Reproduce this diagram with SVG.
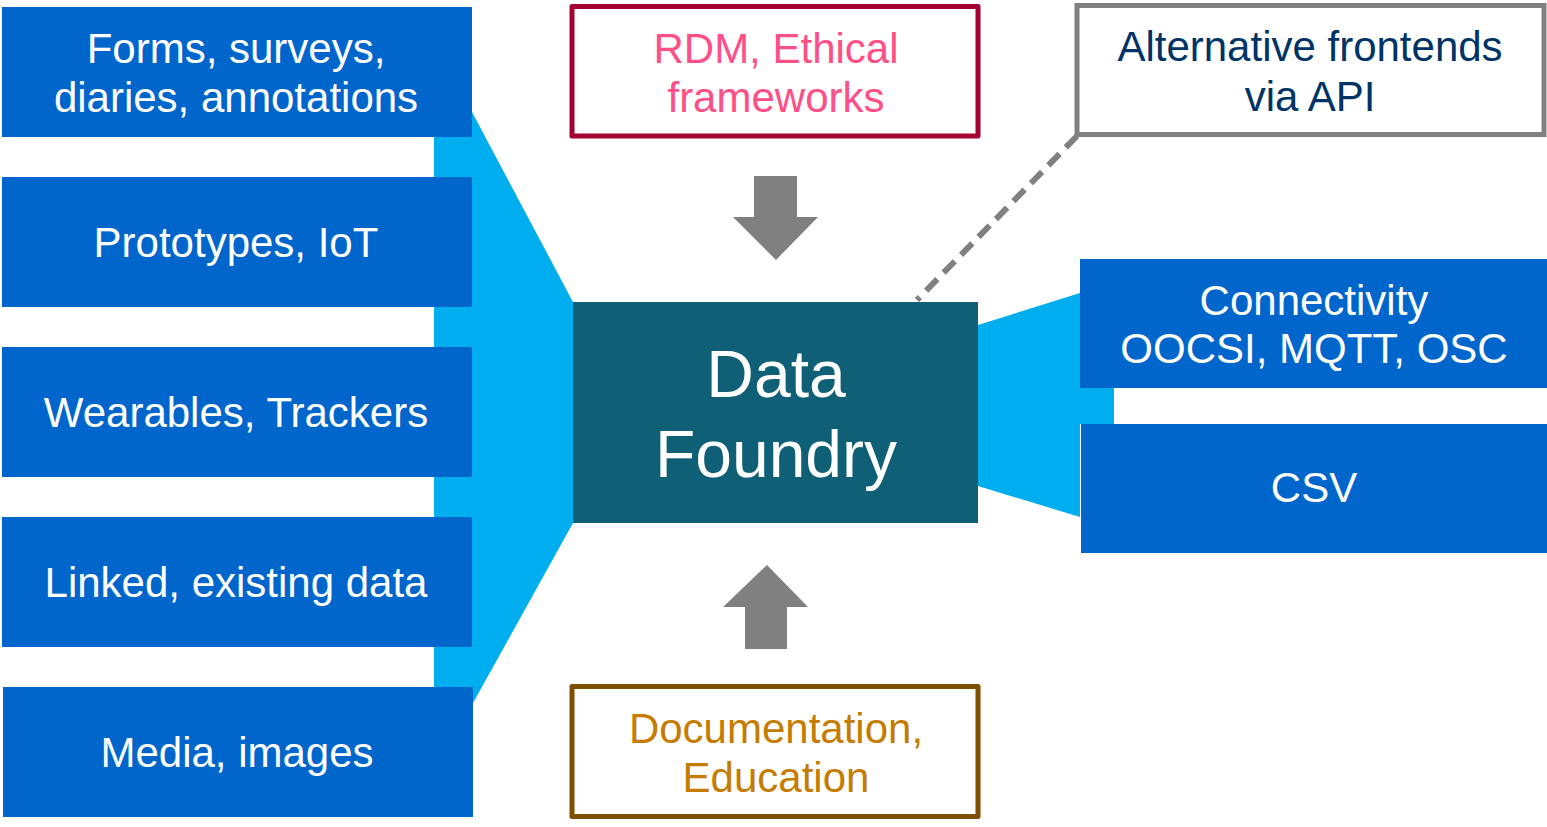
<svg xmlns="http://www.w3.org/2000/svg" width="1547" height="827" viewBox="0 0 1547 827">
<style>
.t{font-family:"Liberation Sans",Arial,sans-serif;font-size:42px;text-anchor:middle}
.w{fill:#ffffff}
.blue{fill:#0066cc}
.funnel{fill:#00adef}
.arrow{fill:#808080}
</style>
<rect width="1547" height="827" fill="#ffffff"/>
<g id="connectors">
  <polygon class="funnel" points="434,112 472,112 573,302 573,523 473,703 434,703"/>
  <polygon class="funnel" points="978,325 1080,293 1080,388 1114,388 1114,424 1080,424 1080,517 978,486"/>
  <polygon class="arrow" points="754,176 797,176 797,217 818,217 776,260 733,217 754,217"/>
  <polygon class="arrow" points="767,565 808,607 787,607 787,649 745,649 745,607 723,607"/>
  <line x1="1077" y1="136" x2="917" y2="300" stroke="#808080" stroke-width="6" stroke-dasharray="16,9"/>
</g>
<g id="n-forms"><rect class="blue" x="2" y="7" width="470" height="130"/><text class="t w" x="236" y="63">Forms, surveys,</text><text class="t w" x="236" y="112">diaries, annotations</text></g>
<g id="n-proto"><rect class="blue" x="2" y="177" width="470" height="130"/><text class="t w" x="236" y="257">Prototypes, IoT</text></g>
<g id="n-wear"><rect class="blue" x="2" y="347" width="470" height="130"/><text class="t w" x="236" y="427">Wearables, Trackers</text></g>
<g id="n-linked"><rect class="blue" x="2" y="517" width="470" height="130"/><text class="t w" x="236" y="597">Linked, existing data</text></g>
<g id="n-media"><rect class="blue" x="3" y="687" width="470" height="130"/><text class="t w" x="237" y="767">Media, images</text></g>
<g id="n-datafoundry"><rect x="573" y="302" width="405" height="221" fill="#0f5f76"/><text class="t w" x="776" y="397" style="font-size:66px">Data</text><text class="t w" x="776" y="477" style="font-size:66px">Foundry</text></g>
<g id="n-rdm"><rect x="572" y="6.5" width="406" height="129.5" fill="#ffffff" stroke="#a50034" stroke-width="5" stroke-linejoin="round"/><text class="t" x="776" y="63" fill="#ff4f87">RDM, Ethical</text><text class="t" x="776" y="112" fill="#ff4f87">frameworks</text></g>
<g id="n-doc"><rect x="572" y="686.5" width="406" height="130" fill="#ffffff" stroke="#7f4f00" stroke-width="5" stroke-linejoin="round"/><text class="t" x="776" y="743" fill="#c57c00">Documentation,</text><text class="t" x="776" y="792" fill="#c57c00">Education</text></g>
<g id="n-alt"><rect x="1077" y="5.5" width="467" height="129" fill="#ffffff" stroke="#808080" stroke-width="5"/><text class="t" x="1310" y="61" fill="#003366">Alternative frontends</text><text class="t" x="1310" y="111" fill="#003366">via API</text></g>
<g id="n-conn"><rect class="blue" x="1080" y="259" width="467" height="129"/><text class="t w" x="1314" y="315">Connectivity</text><text class="t w" x="1314" y="363">OOCSI, MQTT, OSC</text></g>
<g id="n-csv"><rect class="blue" x="1081" y="424" width="466" height="129"/><text class="t w" x="1314" y="502">CSV</text></g>
</svg>
